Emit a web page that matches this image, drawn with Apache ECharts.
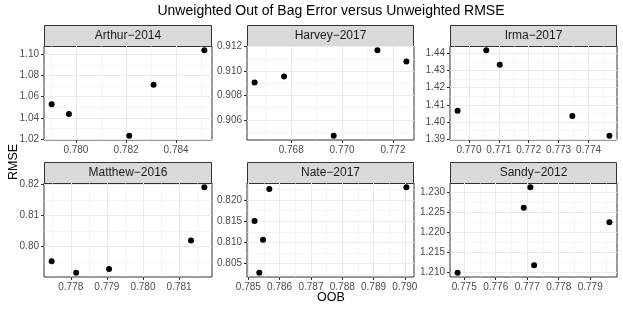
<!DOCTYPE html>
<html><head><meta charset="utf-8">
<script src="https://cdn.jsdelivr.net/npm/echarts@6/dist/echarts.min.js"></script>
<style>html,body{margin:0;padding:0;background:#fff}#c{width:623px;height:312px}</style>
</head><body><div id="c"></div>
<script>
const chartTitle = 'Unweighted Out of Bag Error versus Unweighted RMSE';
const xTitle = 'OOB';
const yTitle = 'RMSE';
const panelNames = ['Arthur−2014','Harvey−2017','Irma−2017','Matthew−2016','Nate−2017','Sandy−2012'];

const arthurOOB  = [0.77903, 0.77972, 0.78213, 0.78310, 0.78513];
const arthurRMSE = [1.0529, 1.0437, 1.0232, 1.0713, 1.1038];
const harveyOOB  = [0.76656, 0.76772, 0.76967, 0.77139, 0.77253];
const harveyRMSE = [0.90906, 0.90955, 0.90470, 0.91170, 0.91079];
const irmaOOB    = [0.76962, 0.77058, 0.77103, 0.77346, 0.77470];
const irmaRMSE   = [1.4065, 1.4418, 1.4333, 1.4035, 1.3920];
const matthewOOB  = [0.77747, 0.77815, 0.77906, 0.78133, 0.78170];
const matthewRMSE = [0.79526, 0.79161, 0.79280, 0.80194, 0.81903];
const nateOOB    = [0.78567, 0.78520, 0.78547, 0.78535, 0.79005];
const nateRMSE   = [0.82260, 0.81507, 0.81064, 0.80287, 0.82300];
const sandyOOB   = [0.77479, 0.77689, 0.77710, 0.77722, 0.77961];
const sandyRMSE  = [1.21000, 1.22617, 1.23125, 1.21183, 1.22258];

const arthurXTicks = ['0.780','0.782','0.784'];
const arthurYTicks = ['1.02','1.04','1.06','1.08','1.10'];
const harveyXTicks = ['0.768','0.770','0.772'];
const harveyYTicks = ['0.906','0.908','0.910','0.912'];
const irmaXTicks = ['0.770','0.771','0.772','0.773','0.774'];
const irmaYTicks = ['1.39','1.40','1.41','1.42','1.43','1.44'];
const matthewXTicks = ['0.778','0.779','0.780','0.781'];
const matthewYTicks = ['0.80','0.81','0.82'];
const nateXTicks = ['0.785','0.786','0.787','0.788','0.789','0.790'];
const nateYTicks = ['0.805','0.810','0.815','0.820'];
const sandyXTicks = ['0.775','0.776','0.777','0.778','0.779'];
const sandyYTicks = ['1.210','1.215','1.220','1.225','1.230'];

const panels = [
  {x: arthurOOB, y: arthurRMSE, xt: arthurXTicks, yt: arthurYTicks},
  {x: harveyOOB, y: harveyRMSE, xt: harveyXTicks, yt: harveyYTicks},
  {x: irmaOOB, y: irmaRMSE, xt: irmaXTicks, yt: irmaYTicks},
  {x: matthewOOB, y: matthewRMSE, xt: matthewXTicks, yt: matthewYTicks},
  {x: nateOOB, y: nateRMSE, xt: nateXTicks, yt: nateYTicks},
  {x: sandyOOB, y: sandyRMSE, xt: sandyXTicks, yt: sandyYTicks}
];

const FONT = '"Liberation Sans", Arial, Helvetica, sans-serif';
const colLeft = [44, 247, 450];
const colW = [168, 167, 167];
const rowTop = [46, 183];
const plotH = 94;
const stripH = 21;

function expand(arr) {
  const lo = Math.min(...arr), hi = Math.max(...arr), r = hi - lo;
  return [lo - 0.05 * r, hi + 0.05 * r];
}
function minorsOf(ticks, lo, hi) {
  const step = ticks[1] - ticks[0], out = [];
  for (let k = -1; k < ticks.length; k++) {
    const v = ticks[0] + (k + 0.5) * step;
    if (v > lo && v < hi) out.push(v);
  }
  return out;
}
function labelFor(labels) {
  return function (v) {
    let best = labels[0], bd = Infinity;
    for (const s of labels) { const d = Math.abs(parseFloat(s) - v); if (d < bd) { bd = d; best = s; } }
    return best;
  };
}

const grids = [], xAxes = [], yAxes = [], series = [], graphics = [];
panels.forEach((p, i) => {
  const col = i % 3, row = Math.floor(i / 3);
  const left = colLeft[col], top = rowTop[row], w = colW[col];
  grids.push({left: left, top: top, width: w, height: plotH, show: true,
    borderColor: '#333333', borderWidth: 1, backgroundColor: '#ffffff', outerBoundsMode: 'none', containLabel: false});
  const [xmin, xmax] = expand(p.x);
  const [ymin, ymax] = expand(p.y);
  const xv = p.xt.map(Number), yv = p.yt.map(Number);
  const xm = minorsOf(xv, xmin, xmax), ym = minorsOf(yv, ymin, ymax);
  xAxes.push({type: 'value', gridIndex: i, position: 'bottom', min: xmin, max: xmax,
    axisLine: {show: false},
    axisTick: {show: true, length: 3, customValues: xv, lineStyle: {color: '#333333', width: 1}},
    axisLabel: {customValues: xv, formatter: labelFor(p.xt), color: '#4d4d4d', fontSize: 10, margin: 5, fontFamily: FONT},
    splitLine: {show: true, lineStyle: {color: '#ebebeb', width: 1}}});
  xAxes.push({type: 'value', gridIndex: i, position: 'bottom', min: xmin, max: xmax,
    axisLine: {show: false},
    axisTick: {show: false, customValues: xm},
    axisLabel: {show: false, customValues: xm},
    splitLine: {show: true, lineStyle: {color: '#ebebeb', width: 0.5}}});
  yAxes.push({type: 'value', gridIndex: i, position: 'left', min: ymin, max: ymax,
    axisLine: {show: false},
    axisTick: {show: true, length: 3, customValues: yv, lineStyle: {color: '#333333', width: 1}},
    axisLabel: {customValues: yv, formatter: labelFor(p.yt), color: '#4d4d4d', fontSize: 10, margin: 5, fontFamily: FONT},
    splitLine: {show: true, lineStyle: {color: '#ebebeb', width: 1}}});
  yAxes.push({type: 'value', gridIndex: i, position: 'left', min: ymin, max: ymax,
    axisLine: {show: false},
    axisTick: {show: false, customValues: ym},
    axisLabel: {show: false, customValues: ym},
    splitLine: {show: true, lineStyle: {color: '#ebebeb', width: 0.5}}});
  series.push({type: 'scatter', xAxisIndex: 2 * i, yAxisIndex: 2 * i,
    data: p.x.map((v, k) => [v, p.y[k]]), symbol: 'circle', symbolSize: 6,
    itemStyle: {color: '#000000', opacity: 1}, silent: true, z: 5});
  graphics.push({type: 'rect', shape: {x: left + 0.5, y: top - stripH + 0.5, width: w - 1, height: stripH},
    style: {fill: '#d9d9d9', stroke: '#333333', lineWidth: 1}, silent: true});
  graphics.push({type: 'text', x: left + w / 2, y: top - stripH / 2 + 0.5,
    style: {text: panelNames[i], align: 'center', verticalAlign: 'middle', fontSize: 12, fontFamily: FONT, fill: '#1a1a1a'}, silent: true});
});
graphics.push({type: 'text', x: 331, y: 11,
  style: {text: chartTitle, align: 'center', verticalAlign: 'middle', fontSize: 14, fontFamily: FONT, fill: '#000000'}, silent: true});
graphics.push({type: 'text', x: 331, y: 298,
  style: {text: xTitle, align: 'center', verticalAlign: 'middle', fontSize: 12.5, fontFamily: FONT, fill: '#000000'}, silent: true});
graphics.push({type: 'text', x: 14, y: 162, rotation: Math.PI / 2,
  style: {text: yTitle, align: 'center', verticalAlign: 'middle', fontSize: 12.5, fontFamily: FONT, fill: '#000000'}, silent: true});

const chart = echarts.init(document.getElementById('c'), null, {renderer: 'canvas'});
chart.setOption({
  animation: false,
  backgroundColor: '#ffffff',
  grid: grids, xAxis: xAxes, yAxis: yAxes, series: series,
  graphic: graphics
});
</script>
</body></html>
